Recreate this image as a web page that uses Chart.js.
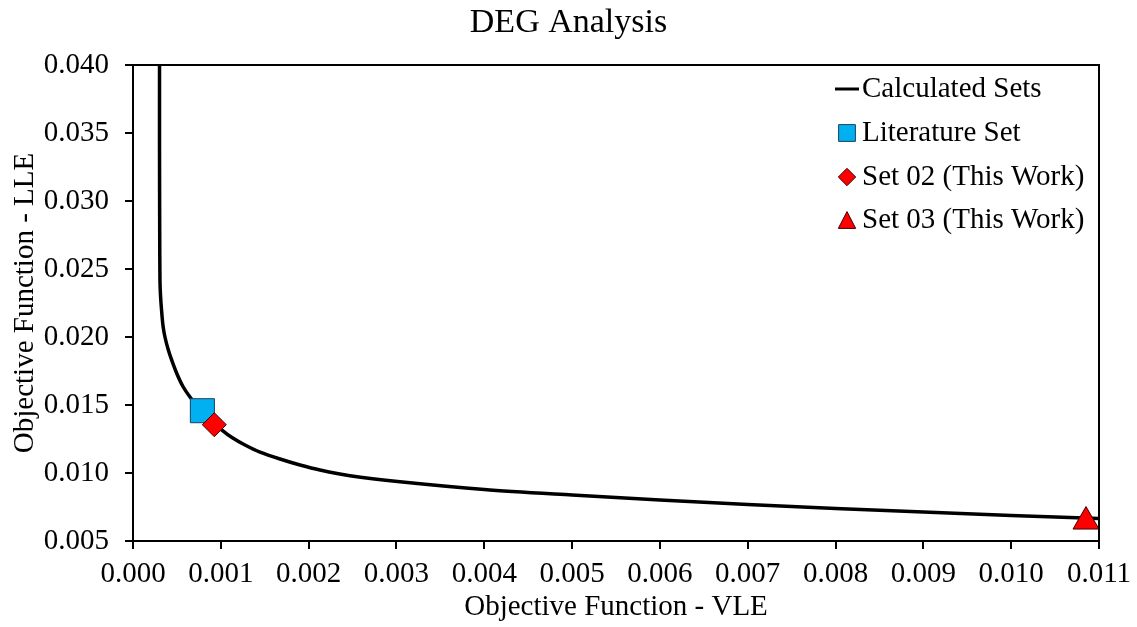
<!DOCTYPE html>
<html>
<head>
<meta charset="utf-8">
<title>DEG Analysis</title>
<script src="https://cdn.jsdelivr.net/npm/chart.js@4.4.1/dist/chart.umd.min.js"></script>
<style>
  html, body { margin: 0; padding: 0; background: #fff; }
  canvas { display: block; }
</style>
</head>
<body>
<canvas id="degChart" width="1137" height="627"></canvas>
<script>
// calculated curve (VLE objective vs LLE objective)
const calcVLE = [0.000302, 0.000302, 0.000304, 0.000307, 0.000313, 0.000325, 0.000342, 0.000364,
  0.000399, 0.000444, 0.000501, 0.000569, 0.000649, 0.000740, 0.000831, 0.000922, 0.001013,
  0.001127, 0.001275, 0.001446, 0.001674, 0.001902, 0.002129, 0.002471, 0.003040,
  0.004, 0.005, 0.006, 0.007, 0.008, 0.009, 0.010, 0.011];
const calcLLE = [0.04000, 0.03375, 0.02787, 0.02419, 0.02309, 0.02199, 0.02081, 0.02000,
  0.01912, 0.01824, 0.01728, 0.01636, 0.01559, 0.01489, 0.01426, 0.01368, 0.01316,
  0.01261, 0.01206, 0.01154, 0.01103, 0.01059, 0.01022, 0.00980, 0.00936,
  0.00879, 0.00838, 0.00801, 0.00768, 0.00739, 0.00713, 0.00687, 0.00665];

// single parameter sets
const literatureSet = [0.00079, 0.01458];
const set02 = [0.000926, 0.01355];
const set03 = [0.010852, 0.00643];

const seriesLabels = ["Calculated Sets", "Literature Set", "Set 02 (This Work)", "Set 03 (This Work)"];
const xTicks = [0.000, 0.001, 0.002, 0.003, 0.004, 0.005, 0.006, 0.007, 0.008, 0.009, 0.010, 0.011];
const yTicks = [0.005, 0.010, 0.015, 0.020, 0.025, 0.030, 0.035, 0.040];

const serif = "'Liberation Serif', 'Times New Roman', serif";
const tickFont = { family: serif, size: 29, lineHeight: 1.2 };

Chart.defaults.color = "#000";
Chart.defaults.font.family = serif;

function toPoints(xs, ys) {
  return xs.map((x, i) => ({ x: x, y: ys[i] }));
}

// w/h are half width and half height of the symbol
function drawMarker(ctx, style, x, y, w, h) {
  ctx.beginPath();
  if (style === "rect") {
    ctx.rect(x - w, y - h, 2 * w, 2 * h);
  } else if (style === "rectRot") {
    ctx.moveTo(x, y - h);
    ctx.lineTo(x + w, y);
    ctx.lineTo(x, y + h);
    ctx.lineTo(x - w, y);
    ctx.closePath();
  } else if (style === "triangle") {
    ctx.moveTo(x, y - h);
    ctx.lineTo(x + w, y + h);
    ctx.lineTo(x - w, y + h);
    ctx.closePath();
  }
  ctx.fill();
  ctx.stroke();
}

// plot frame and the key sitting inside the plot area, top right
const frameAndKey = {
  id: "frameAndKey",
  afterDatasetsDraw(chart) {
    const { ctx, chartArea: a } = chart;
    ctx.save();
    ctx.strokeStyle = "#000";
    ctx.lineWidth = 2;
    ctx.strokeRect(a.left, a.top, a.right - a.left, a.bottom - a.top);

    const rows = [24, 68, 112, 155];
    const symX = a.right - 252;
    const half = [[0, 0], [8.4, 8.4], [8.7, 8.7], [8.7, 8.4]];
    ctx.font = "29px " + serif;
    ctx.textBaseline = "middle";
    ctx.textAlign = "left";
    chart.data.datasets.forEach((ds, i) => {
      const y = a.top + rows[i];
      if (ds.showLine) {
        ctx.strokeStyle = ds.borderColor;
        ctx.lineWidth = 3;
        ctx.beginPath();
        ctx.moveTo(a.right - 264, y);
        ctx.lineTo(a.right - 240, y);
        ctx.stroke();
      } else {
        ctx.fillStyle = ds.backgroundColor;
        ctx.strokeStyle = ds.borderColor;
        ctx.lineWidth = 1;
        drawMarker(ctx, ds.pointStyle, symX, y, half[i][0], half[i][1]);
      }
      ctx.fillStyle = "#000";
      ctx.fillText(ds.label, a.right - 237, y);
    });
    ctx.restore();
  }
};

const tickGrid = {
  display: true,
  drawOnChartArea: false,
  drawTicks: true,
  tickLength: 8,
  color: "#000",
  lineWidth: 2
};

new Chart(document.getElementById("degChart"), {
  type: "scatter",
  data: {
    datasets: [
      {
        label: seriesLabels[0],
        data: toPoints(calcVLE, calcLLE),
        showLine: true,
        borderColor: "#000",
        borderWidth: 3.5,
        pointRadius: 0,
        tension: 0.3,
        order: 4
      },
      {
        label: seriesLabels[1],
        data: [{ x: literatureSet[0], y: literatureSet[1] }],
        pointStyle: "rect",
        pointRadius: 17,
        backgroundColor: "#00B0F0",
        borderColor: "#1F3F5F",
        borderWidth: 1,
        order: 3
      },
      {
        label: seriesLabels[2],
        data: [{ x: set02[0], y: set02[1] }],
        pointStyle: "rectRot",
        pointRadius: 12,
        backgroundColor: "#FF0000",
        borderColor: "#400000",
        borderWidth: 1,
        order: 2
      },
      {
        label: seriesLabels[3],
        data: [{ x: set03[0], y: set03[1] }],
        pointStyle: "triangle",
        pointRadius: 15,
        backgroundColor: "#FF0000",
        borderColor: "#400000",
        borderWidth: 1,
        order: 1
      }
    ]
  },
  options: {
    responsive: false,
    animation: false,
    devicePixelRatio: 1,
    layout: { padding: 0 },
    datasets: { scatter: { clip: false } },
    plugins: {
      legend: { display: false },
      tooltip: { enabled: false },
      title: {
        display: true,
        text: "DEG Analysis",
        font: { family: serif, size: 34, weight: "normal", lineHeight: 1.2 },
        padding: { top: 3, bottom: 21.2 }
      }
    },
    scales: {
      x: {
        type: "linear",
        min: 0,
        max: 0.011,
        afterBuildTicks: s => { s.ticks = xTicks.map(v => ({ value: v })); },
        afterFit: s => {
          s.height = 86;
          s.paddingRight = 0;
        },
        ticks: {
          font: tickFont,
          padding: 8,
          maxRotation: 0,
          autoSkip: false,
          callback: v => v.toFixed(3)
        },
        grid: tickGrid,
        border: { display: false },
        title: {
          display: true,
          text: "Objective Function - VLE",
          font: tickFont,
          padding: { top: 0, bottom: 2 }
        }
      },
      y: {
        type: "linear",
        min: 0.005,
        max: 0.040,
        afterBuildTicks: s => { s.ticks = yTicks.map(v => ({ value: v })); },
        afterFit: s => { s.width = 133; },
        ticks: {
          font: tickFont,
          padding: 16,
          autoSkip: false,
          callback: v => v.toFixed(3)
        },
        grid: tickGrid,
        border: { display: false },
        title: {
          display: true,
          text: "Objective Function - LLE",
          font: tickFont,
          padding: { top: 8, bottom: 0 }
        }
      },
      // empty right-hand strip, keeps the title centred on the whole canvas
      yRight: {
        type: "linear",
        position: "right",
        display: true,
        afterFit: s => { s.width = 38; },
        ticks: { display: false },
        grid: { display: false },
        border: { display: false }
      }
    }
  },
  plugins: [frameAndKey]
});
</script>
</body>
</html>
